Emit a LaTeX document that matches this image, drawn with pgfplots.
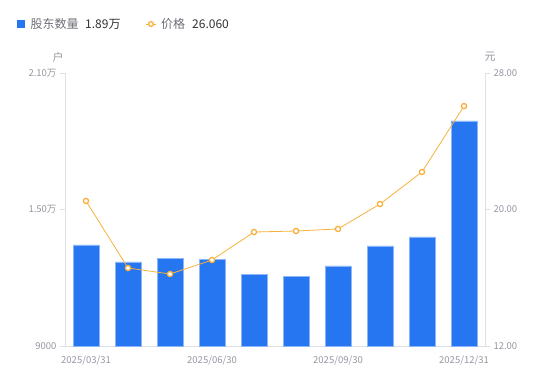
\documentclass[border=0pt]{standalone}
\usepackage{pgfplots}
\pgfplotsset{compat=1.18}
\usepackage{fontspec}
\setmainfont{Noto Sans CJK SC}
\definecolor{barblue}{RGB}{39,118,241}
\definecolor{baredge}{RGB}{140,182,248}
\definecolor{lineor}{RGB}{247,176,58}
\definecolor{axgray}{RGB}{224,224,228}
\definecolor{txtgray}{RGB}{150,150,162}
\definecolor{txtmid}{RGB}{110,110,120}
\definecolor{txtdark}{RGB}{50,50,55}
\begin{document}
\begin{tikzpicture}[x=1bp,y=1bp]
\useasboundingbox (0,0) rectangle (550,381);
\pgfplotsset{
  common/.style={
    at={(65bp,35bp)}, anchor=south west,
    scale only axis, width=420bp, height=273bp,
    xmin=-0.5, xmax=9.5,
    axis line style={axgray,-},
    tick style={axgray, line width=0.8pt},
    tick label style={font=\fontsize{9.5bp}{11bp}\selectfont, text=txtgray},
    major tick length=5bp,
    tick align=outside,
    scaled y ticks=false,
  }
}
\begin{axis}[common,
  ymin=9000, ymax=21000,
  axis y line*=left, axis x line*=bottom,
  ytick={9000,15000,21000},
  yticklabels={9000,1.50万,2.10万},
  xtick={0,3,6,9},
  xticklabels={2025/03/31,2025/06/30,2025/09/30,2025/12/31},
  x tick style={draw=none},
  xticklabel style={yshift=-1bp},
  ybar, bar width=26bp,
]
\addplot[fill=barblue, draw=baredge, line width=0.6pt] coordinates {
(0,13440) (1,12693) (2,12868) (3,12824) (4,12165)
(5,12077) (6,12517) (7,13396) (8,13792) (9,18891)};
\end{axis}
\begin{axis}[common,
  ymin=12, ymax=28,
  axis y line*=right, axis x line=none,
  ytick={12,20,28},
  yticklabels={12.00,20.00,28.00},
]
\addplot[color=lineor, line width=0.8pt, mark=*, mark size=2.6bp,
  mark options={fill=white, draw=lineor, line width=1.3pt}] coordinates {
(0,20.50) (1,16.57) (2,16.22) (3,17.04) (4,18.68)
(5,18.74) (6,18.86) (7,20.32) (8,22.20) (9,26.06)};
\end{axis}
% legend
\fill[barblue] (17,353) rectangle (25,361);
\node[anchor=west, inner sep=0pt, text=txtmid] at (30.5,357) {\fontsize{12bp}{14bp}\selectfont 股东数量};
\node[anchor=west, inner sep=0pt, text=txtdark] at (85,357) {\fontsize{12bp}{14bp}\selectfont 1.89万};
\draw[lineor, line width=1pt] (146,357) -- (156,357);
\draw[lineor, fill=white, line width=1.3pt] (151,357) circle (2.4);
\node[anchor=west, inner sep=0pt, text=txtmid] at (161,357) {\fontsize{12bp}{14bp}\selectfont 价格};
\node[anchor=west, inner sep=0pt, text=txtdark] at (192,357) {\fontsize{12bp}{14bp}\selectfont 26.060};
% axis titles
\node[text=txtgray] at (58,324) {\fontsize{11bp}{13bp}\selectfont 户};
\node[text=txtgray] at (490,324) {\fontsize{11bp}{13bp}\selectfont 元};
\end{tikzpicture}
\end{document}
